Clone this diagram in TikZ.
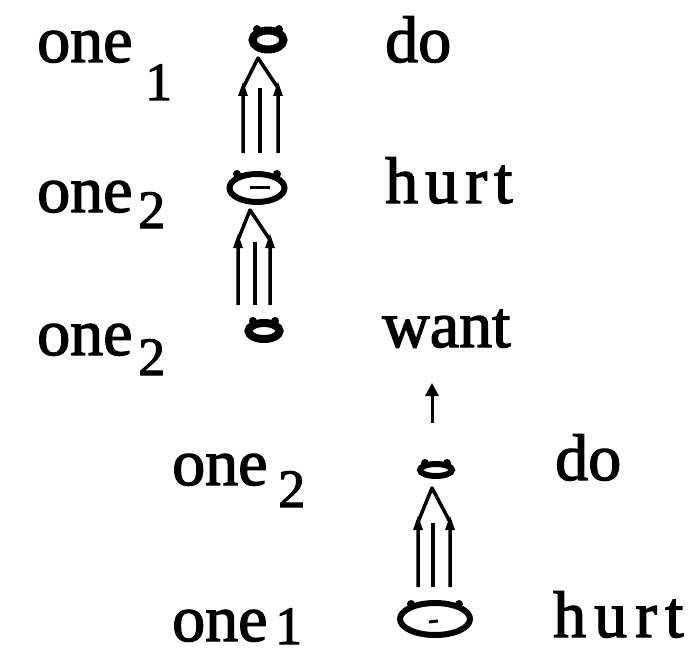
\documentclass[tikz,border=0pt]{standalone}
\usepackage{fontspec}
\setmainfont{Liberation Serif}
\newfontfamily\medfont{Liberation Serif}[FakeBold=2]
\usetikzlibrary{shapes.geometric,arrows.meta}
\tikzset{
  word/.style={anchor=base west,inner sep=0pt,font=\fontsize{66}{66}\medfont},
  subscr/.style={anchor=base west,inner sep=0pt,text depth=0pt,font=\fontsize{54}{54}\medfont},
  lens/.style={ellipse,draw,inner sep=0pt,line width=#1},
  lens/.default=6pt,
  tline/.style={line width=3.5pt,line join=round},
  barb/.style={fill=black},
  bar/.style={line width=3pt}
}
\begin{document}
\begin{tikzpicture}[x=1pt,y=-1pt]
\useasboundingbox[fill=white] (0,0) rectangle (693,658);

% words
\node[word] (w1) at (37,62) {one};
\node[subscr] (s1) at (145,100) {1};
\node[word] (w2) at (37,212) {one};
\node[subscr] (s2) at (138,228) {2};
\node[word] (w3) at (37,355) {one};
\node[subscr] (s3) at (138,375) {2};
\node[word] (w4) at (172,485) {one};
\node[subscr] (s4) at (278,507) {2};
\node[word] (w5) at (172,641) {one};
\node[subscr] (s5) at (275,644) {1};

\node[word] (v1) at (385,62) {do};
\node[word] (v2) at (385,203) {h\kern7pt u\kern7pt r\kern7pt t};
\node[word] (v3) at (382,347) {want};
\node[word] (v4) at (555,480) {do};
\node[word] (v5) at (553,637) {h\kern8pt u\kern8pt r\kern8pt t};

% two-way links
\node[lens=8pt,minimum width=31pt,minimum height=19pt] (L1) at (268,40) {};
\node[lens=6pt,minimum width=55pt,minimum height=28pt] (L2) at (257,188) {};
\node[lens=8pt,minimum width=31pt,minimum height=16pt] (L3) at (264,331) {};
\node[lens=6pt,minimum width=32pt,minimum height=12pt] (L4) at (436,470) {};
\node[lens=6pt,minimum width=70pt,minimum height=32pt] (L5) at (435,619) {};
\draw[bar] (250,187) -- (270,187);
\draw[bar] (429,622) -- (438,621);
\foreach \n/\w/\h in {L1/11/11,L2/20/14,L3/11/10,L4/11/7,L5/24/15}{
  \fill ([xshift=-\w pt,yshift=\h pt]\n.center) circle (4pt);
  \fill ([xshift=\w pt,yshift=\h pt]\n.center) circle (4pt);
}

% causal triple arrows
\coordinate (p1) at (258,58);
\coordinate (p2) at (250,210);
\coordinate (p3) at (432,488);
\draw[tline] (243,153) -- (243,88) -- (p1) -- (278,88) -- (278,153);
\draw[tline] (260,153) -- (260,88);
\fill[barb] (238,96) -- (243,82) -- (248,96) -- cycle;
\fill[barb] (273,96) -- (278,82) -- (283,96) -- cycle;
\draw[tline] (238,305) -- (238,240) -- (p2) -- (270,240) -- (270,305);
\draw[tline] (255,305) -- (255,242);
\fill[barb] (233,248) -- (238,234) -- (243,248) -- cycle;
\fill[barb] (265,248) -- (270,234) -- (275,248) -- cycle;
\draw[tline] (418,587) -- (418,522) -- (p3) -- (450,522) -- (450,587);
\draw[tline] (433,587) -- (433,523);
\fill[barb] (413,530) -- (418,516) -- (423,530) -- cycle;
\fill[barb] (445,530) -- (450,516) -- (455,530) -- cycle;

% simple arrow
\coordinate (a0) at (432,423);
\coordinate (a1) at (432,383);
\draw[line width=3pt,-{Triangle[length=13pt,width=13pt]}] (a0) -- (a1);
\end{tikzpicture}
\end{document}
